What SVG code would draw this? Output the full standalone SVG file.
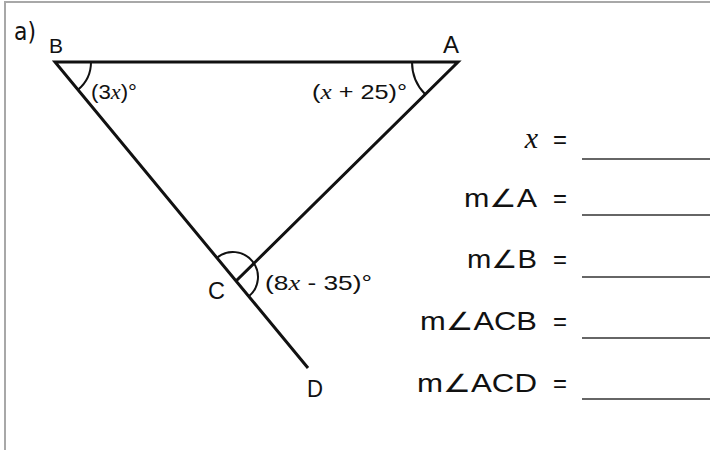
<svg xmlns="http://www.w3.org/2000/svg" width="710" height="450" viewBox="0 0 710 450">
<style>
.frame{stroke:#a8a8a8;stroke-width:2;fill:none}
.edge{stroke:#111111;stroke-width:3;fill:none;stroke-linejoin:miter}
.arc{stroke:#111111;stroke-width:2;fill:none}
.lbl{font-family:"Liberation Sans","DejaVu Sans",sans-serif;fill:#111111}
.var{font-family:"Liberation Serif","DejaVu Serif",serif;font-style:italic}
.blank{stroke:#333333;stroke-width:1.5}
</style>
<rect width="710" height="450" fill="#ffffff"/>
<line class="frame" x1="4" y1="2" x2="710" y2="2"/>
<line class="frame" x1="5" y1="1" x2="5" y2="450"/>
<text class="lbl" x="14" y="40" font-size="25" textLength="22" lengthAdjust="spacingAndGlyphs" style="font-family:'DejaVu Sans',sans-serif">a)</text>
<g id="connectors">
<path class="edge" d="M236 281 L458 62 L55 62 L308 368"/>
</g>
<g id="B">
<path class="arc" d="M91 62 A36 36 0 0 1 77.9 89.8"/>
<text class="lbl" x="49" y="53" font-size="21" textLength="14" lengthAdjust="spacingAndGlyphs">B</text>
<text class="lbl" x="91" y="99" font-size="21" textLength="46" lengthAdjust="spacingAndGlyphs">(3<tspan class="var">x</tspan>)°</text>
</g>
<g id="A">
<path class="arc" d="M412 62 A46 46 0 0 0 425.2 94.3"/>
<text class="lbl" x="443" y="53" font-size="23" textLength="16" lengthAdjust="spacingAndGlyphs">A</text>
<text class="lbl" x="312" y="99" font-size="21" textLength="95" lengthAdjust="spacingAndGlyphs">(<tspan class="var">x</tspan> + 25)°</text>
</g>
<g id="C">
<path class="arc" d="M217.1 257.7 A25 25 0 0 1 248.9 296.3"/>
<text class="lbl" x="208" y="299" font-size="23" textLength="17" lengthAdjust="spacingAndGlyphs">C</text>
<text class="lbl" x="265" y="290" font-size="21" textLength="107" lengthAdjust="spacingAndGlyphs">(8<tspan class="var">x</tspan> - 35)°</text>
</g>
<g id="D">
<text class="lbl" x="307" y="397" font-size="23" textLength="16" lengthAdjust="spacingAndGlyphs">D</text>
</g>
<g id="answers">
<text class="lbl var" x="538" y="148" font-size="30" text-anchor="end">x</text>
<text class="lbl" x="537" y="207" font-size="25" text-anchor="end" textLength="73" lengthAdjust="spacingAndGlyphs">m∠A</text>
<text class="lbl" x="537" y="268" font-size="25" text-anchor="end" textLength="70" lengthAdjust="spacingAndGlyphs">m∠B</text>
<text class="lbl" x="537" y="330" font-size="25" text-anchor="end" textLength="117" lengthAdjust="spacingAndGlyphs">m∠ACB</text>
<text class="lbl" x="537" y="392" font-size="25" text-anchor="end" textLength="120" lengthAdjust="spacingAndGlyphs">m∠ACD</text>
<text class="lbl" x="553" y="148" font-size="25" textLength="14" lengthAdjust="spacingAndGlyphs">=</text>
<text class="lbl" x="553" y="207" font-size="25" textLength="14" lengthAdjust="spacingAndGlyphs">=</text>
<text class="lbl" x="553" y="268" font-size="25" textLength="14" lengthAdjust="spacingAndGlyphs">=</text>
<text class="lbl" x="553" y="330" font-size="25" textLength="14" lengthAdjust="spacingAndGlyphs">=</text>
<text class="lbl" x="553" y="392" font-size="25" textLength="14" lengthAdjust="spacingAndGlyphs">=</text>
<line class="blank" x1="582" y1="159" x2="710" y2="159"/>
<line class="blank" x1="582" y1="215" x2="710" y2="215"/>
<line class="blank" x1="582" y1="277" x2="710" y2="277"/>
<line class="blank" x1="582" y1="338" x2="710" y2="338"/>
<line class="blank" x1="582" y1="399" x2="710" y2="399"/>
</g>
</svg>
